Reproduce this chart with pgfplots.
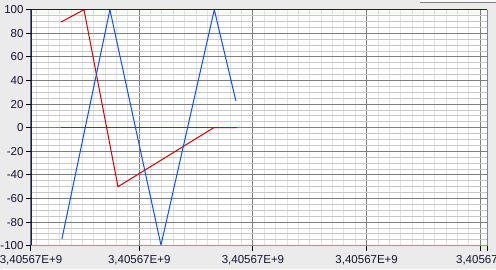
\documentclass[border=0pt]{standalone}
\usepackage{pgfplots}
\pgfplotsset{compat=1.18}
\usepackage{fontspec}
\setmainfont{Liberation Sans}
\definecolor{bgc}{RGB}{235,235,235}
\definecolor{navy}{RGB}{10,30,110}
\definecolor{lblue}{RGB}{120,155,230}
\definecolor{majg}{RGB}{125,125,125}
\definecolor{minyg}{RGB}{200,200,200}
\definecolor{minxg}{RGB}{226,226,226}
\definecolor{cblue}{RGB}{10,80,255}
\definecolor{cred}{RGB}{210,0,0}
\definecolor{cgreen}{RGB}{20,110,0}
\definecolor{lbl}{RGB}{20,20,50}
\newcommand{\xl}{\textrm{3,40567E+9}}
\begin{document}
\begin{tikzpicture}[x=1pt,y=1pt]
\clip (0,0) rectangle (496,269);
\fill[bgc] (0,0) rectangle (496,269);
\fill[white!70!bgc] (420,267) rectangle (496,269);
\draw[gray,line width=1pt] (420,266.5) -- (496,266.5);
\begin{axis}[
  at={(31pt,23.3pt)}, anchor=south west,
  scale only axis, width=456.3pt, height=236pt,
  xmin=-0.952, xmax=3.061, ymin=-100, ymax=100,
  axis background/.style={fill=white},
  axis line style={draw=none},
  xtick={-0.952,0,1,2,3,3.061},
  xticklabels={\xl,\xl,\xl,\xl,{},\xl},
  minor xtick={-0.9,-0.8,...,3.05},
  ytick={-100,-80,...,100},
  minor ytick={-95,-90,...,95},
  /pgf/number format/assume math mode=true,
  yticklabel={\pgfmathprintnumber{\tick}},
  grid=both,
  major grid style={majg,line width=1pt},
  minor x grid style={minxg,line width=1pt},
  minor y grid style={minyg,line width=1pt},
  tick align=outside,
  major tick length=5pt, minor tick length=0pt,
  tick style={black,line width=1pt},
  ticklabel style={font=\fontsize{11.5}{12}\selectfont, text=lbl},
  xticklabel style={yshift=-1pt},
  yticklabel style={xshift=1pt},
  xtick pos=bottom, ytick pos=left,
  scaled x ticks=false,
]
\addplot[cgreen, line width=1pt] coordinates {(-0.689,0) (0.859,0)};
\addplot[cred, line width=1pt] coordinates {(-0.689,89.5) (-0.486,100) (-0.187,-50) (0.655,0) (0.859,0)};
\addplot[cblue, line width=1pt] coordinates {(-0.680,-94.3) (-0.258,100) (0.191,-99.5) (0.660,100) (0.850,22.6)};
\draw[navy,line width=1.2pt] (rel axis cs:0,0) -- (rel axis cs:0,1) -- (rel axis cs:1,1);
\draw[lblue,line width=1pt] (rel axis cs:1,1) -- (rel axis cs:1,0) -- (rel axis cs:0,0);
\end{axis}
\end{tikzpicture}
\end{document}
